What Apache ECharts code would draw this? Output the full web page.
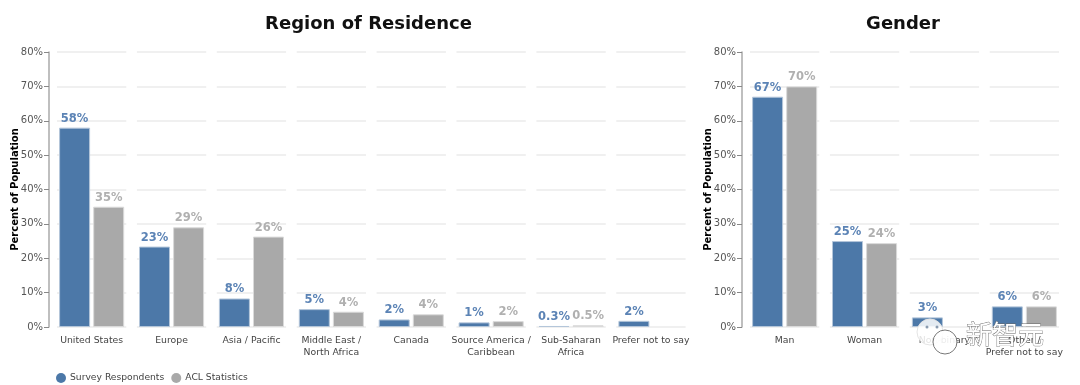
<!DOCTYPE html>
<html>
<head>
<meta charset="utf-8">
<script src="https://cdn.jsdelivr.net/npm/echarts@6/dist/echarts.min.js"></script>
<style>
  html, body { margin: 0; padding: 0; background: #fff; }
  #chart { width: 1080px; height: 385px; }
</style>
</head>
<body>
<div id="chart"></div>
<script>
  // values, percent of population
  const regionCategories = ['United States', 'Europe', 'Asia / Pacific', 'Middle East /\nNorth Africa', 'Canada', 'Source America /\nCaribbean', 'Sub-Saharan\nAfrica', 'Prefer not to say'];
  const regionSurvey = [58, 23.4, 8.3, 5.2, 2.2, 1.35, 0.3, 1.8];
  const regionAcl = [35, 29, 26.3, 4.45, 3.7, 1.7, 0.5, null];

  const genderCategories = ['Man', 'Woman', 'Non-binary', 'Other /\nPrefer not to say'];
  const genderSurvey = [67, 25, 2.8, 6];
  const genderAcl = [70, 24.4, null, 6];

  const seriesNames = ['Survey Respondents', 'ACL Statistics'];
  const yTicks = [0, 10, 20, 30, 40, 50, 60, 70, 80];

  const fontName = '"DejaVu Sans", Verdana, sans-serif';
  const blue = '#4c78a8';
  const gray = '#a9a9a9';

  let grids = [], xAxes = [], yAxes = [], seriesList = [];

  // one small grid per category, same as the facets in the original
  function addPanel(categories, survey, acl, left, axisTitle) {
    categories.forEach(function (cat, i) {
      let idx = grids.length;
      grids.push({ left: left + i * 79.9, top: 52, width: 69.3, height: 275 });
      xAxes.push({
        gridIndex: idx,
        type: 'category',
        data: [cat],
        axisLine: { show: false },
        axisTick: { show: false },
        axisLabel: { color: '#444', fontFamily: fontName, fontSize: 9.3, margin: 8, lineHeight: 11.5, interval: 0 }
      });
      yAxes.push({
        gridIndex: idx,
        type: 'value',
        min: yTicks[0],
        max: yTicks[yTicks.length - 1],
        interval: 10,
        offset: 8,
        name: i == 0 ? axisTitle : '',
        nameLocation: 'middle',
        nameGap: 29,
        nameMoveOverlap: false,
        nameTextStyle: { color: '#000', fontFamily: fontName, fontSize: 10, fontWeight: 'bold' },
        axisLine: { show: i == 0, onZero: false, lineStyle: { color: '#aaa', width: 1.5 } },
        axisTick: { show: i == 0, length: 5, lineStyle: { color: '#888' } },
        axisLabel: { show: i == 0, color: '#555', fontFamily: fontName, fontSize: 10, margin: 6, formatter: '{value}%' },
        splitLine: { show: true, lineStyle: { color: '#f0f0f0', width: 2 } }
      });
      seriesList.push(makeBar(seriesNames[0], survey[i], idx, blue, '#b4c6da', '#5b83b5'));
      seriesList.push(makeBar(seriesNames[1], acl[i], idx, gray, '#dadada', '#b0b0b0'));
    });
  }

  function makeBar(name, value, idx, color, border, labelColor) {
    return {
      name: name,
      type: 'bar',
      xAxisIndex: idx,
      yAxisIndex: idx,
      data: [value],
      barWidth: 31,
      barGap: '10%',
      animation: false,
      itemStyle: { color: color, borderColor: border, borderWidth: 1 },
      label: {
        show: value != null,
        position: 'top',
        distance: 3,
        color: labelColor,
        fontFamily: fontName,
        fontSize: 11.5,
        fontWeight: 'bold',
        formatter: function (p) {
          return (p.value < 1 ? p.value : Math.round(p.value)) + '%';
        }
      }
    };
  }

  addPanel(regionCategories, regionSurvey, regionAcl, 57, 'Percent of Population');
  addPanel(genderCategories, genderSurvey, genderAcl, 750, 'Percent of Population');

  let myChart = echarts.init(document.getElementById('chart'), null, { renderer: 'canvas' });

  myChart.setOption({
    animation: false,
    color: [blue, gray],
    title: [
      { text: 'Region of Residence', left: 363.5, top: 10, textAlign: 'center', textStyle: { color: '#111', fontFamily: fontName, fontSize: 18, fontWeight: 'bold' } },
      { text: 'Gender', left: 898, top: 10, textAlign: 'center', textStyle: { color: '#111', fontFamily: fontName, fontSize: 18, fontWeight: 'bold' } }
    ],
    legend: {
      data: seriesNames,
      left: 51,
      top: 368,
      icon: 'circle',
      itemWidth: 10,
      itemHeight: 10,
      itemGap: 7,
      itemStyle: { borderWidth: 0 },
      textStyle: { color: '#444', fontFamily: fontName, fontSize: 9.2, padding: [0, 0, 0, -1] }
    },
    grid: grids,
    xAxis: xAxes,
    yAxis: yAxes,
    series: seriesList,
    // watermark sitting on top of the gender panel
    graphic: [
      { type: 'circle', z: 100, shape: { cx: 930, cy: 332, r: 13 }, style: { fill: 'rgba(255,255,255,0.85)', stroke: '#e4e4e4', lineWidth: 1 } },
      { type: 'circle', z: 100, shape: { cx: 927, cy: 327, r: 1.5 }, style: { fill: '#8a9bb0' } },
      { type: 'circle', z: 100, shape: { cx: 937, cy: 327, r: 1.5 }, style: { fill: '#8a9bb0' } },
      { type: 'circle', z: 101, shape: { cx: 945, cy: 342, r: 12 }, style: { fill: 'rgba(255,255,255,0.9)', stroke: '#777', lineWidth: 1 } },
      { type: 'text', z: 102, x: 966, y: 321, style: { text: '新智元', fill: '#fff', stroke: '#666', lineWidth: 0.8, font: '26px "Noto Sans CJK SC"' } }
    ]
  });
</script>
</body>
</html>
